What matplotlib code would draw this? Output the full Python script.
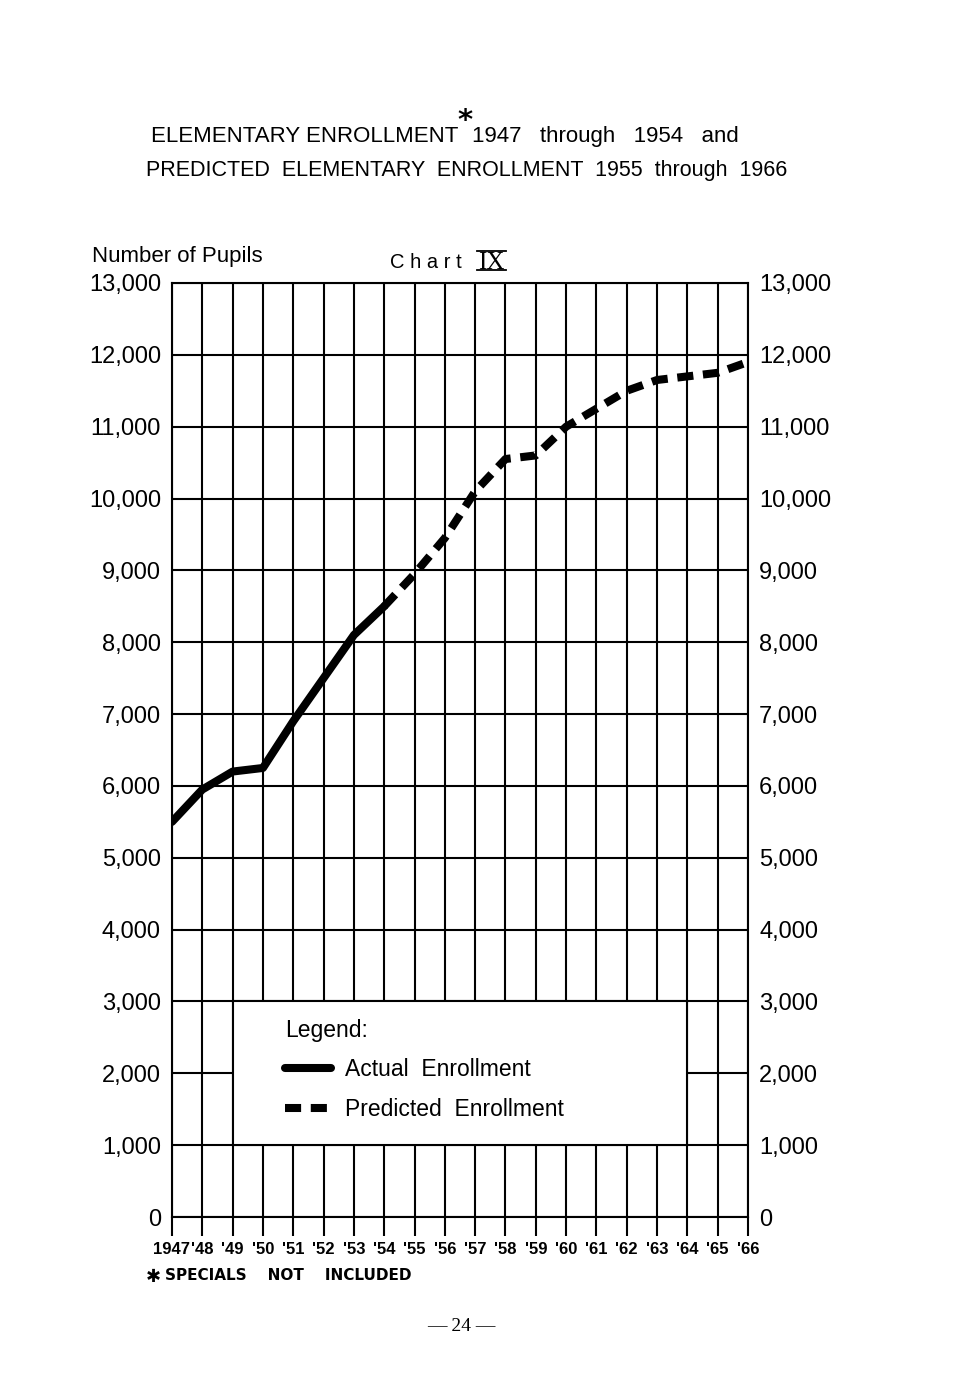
import matplotlib
matplotlib.use("Agg")
import matplotlib.pyplot as plt
from matplotlib.lines import Line2D
from matplotlib.patches import Rectangle

# ---- data ----
actual_years = [1947, 1948, 1949, 1950, 1951, 1952, 1953, 1954]
actual_pupils = [5500, 5950, 6200, 6250, 6900, 7500, 8100, 8500]
pred_years = [1954, 1955, 1956, 1957, 1958, 1959, 1960, 1961, 1962, 1963, 1964, 1965, 1966]
pred_pupils = [8500, 8950, 9450, 10100, 10550, 10600, 11000, 11250, 11500, 11650, 11700, 11750, 11900]
year_ticks = list(range(1947, 1967))
year_labels = ["1947", "'48", "'49", "'50", "'51", "'52", "'53", "'54", "'55", "'56",
               "'57", "'58", "'59", "'60", "'61", "'62", "'63", "'64", "'65", "'66"]
pupil_ticks = list(range(0, 13001, 1000))
pupil_labels = ["0", "1,000", "2,000", "3,000", "4,000", "5,000", "6,000", "7,000",
                "8,000", "9,000", "10,000", "11,000", "12,000", "13,000"]

W, H = 954, 1380
SANS = ["Liberation Sans", "DejaVu Sans"]

fig = plt.figure(figsize=(W / 100, H / 100), dpi=100)
fig.patch.set_facecolor("white")


def px(x, y):
    return x / W, 1 - y / H


ax = fig.add_axes([172 / W, 1 - 1217 / H, 576 / W, 934 / H])
ax.set_xlim(1947, 1966)
ax.set_ylim(0, 13000)
ax.set_axisbelow(True)
ax.grid(True, color="black", linewidth=1.5)
for s in ax.spines.values():
    s.set_linewidth(1.5)

ax.set_xticks(year_ticks)
ax.set_xticklabels(year_labels, fontfamily=SANS, fontweight="bold", fontsize=12)
ax.set_yticks(pupil_ticks)
ax.set_yticklabels(pupil_labels, fontfamily=SANS, fontsize=17)
ax.tick_params(axis="x", direction="out", length=14, width=1.5, pad=4)
ax.tick_params(axis="y", length=0, pad=8, labelleft=True, labelright=True)

# legend box region
ax.add_patch(Rectangle((1949, 1000), 15, 2000, facecolor="white", edgecolor="black",
                       linewidth=1.5, zorder=1))

ax.plot(actual_years, actual_pupils, color="black", linewidth=5.8,
        solid_capstyle="round", solid_joinstyle="round", label="Actual  Enrollment", zorder=3)
ax.plot(pred_years, pred_pupils, color="black", linewidth=5.8, dashes=(2.0, 1.2),
        label="Predicted  Enrollment", zorder=3)

leg = ax.legend(loc="upper left", bbox_to_anchor=px(274, 1008), bbox_transform=fig.transFigure,
                frameon=False, title="Legend:", alignment="left",
                prop={"family": SANS, "size": 16.5},
                title_fontproperties={"family": SANS, "size": 16.5},
                handlelength=2.0, handletextpad=0.6, labelspacing=0.7, borderpad=0)

# ---- titles and annotations ----
fig.text(*px(458, 142), "ELEMENTARY ENROLLMENT", ha="right", va="baseline",
         fontfamily=SANS, fontsize=16)
fig.text(*px(465, 129), "*", ha="center", va="baseline", fontfamily="DejaVu Sans",
         fontweight="bold", fontsize=21)
fig.text(*px(472, 142), "1947   through   1954   and", ha="left", va="baseline",
         fontfamily=SANS, fontsize=16)
fig.text(*px(467, 176), "PREDICTED  ELEMENTARY  ENROLLMENT  1955  through  1966", ha="center",
         va="baseline", fontfamily=SANS, fontsize=15.5)

fig.text(*px(92, 262), "Number of Pupils", ha="left", va="baseline", fontfamily=SANS, fontsize=16)
fig.text(*px(390, 268), "C h a r t", ha="left", va="baseline", fontfamily=SANS, fontsize=14.5)
fig.text(*px(491, 269), "IX", ha="center", va="baseline", fontfamily="Liberation Serif", fontsize=18)
for yy in (251, 270):
    fig.add_artist(Line2D([477 / W, 506 / W], [1 - yy / H, 1 - yy / H], color="black", linewidth=1.3))

fig.text(*px(146, 1282), "\u2731", ha="left", va="baseline",
         fontfamily="DejaVu Sans", fontweight="bold", fontsize=13)
fig.text(*px(165, 1280), "SPECIALS    NOT    INCLUDED", ha="left", va="baseline",
         fontfamily="DejaVu Sans", fontweight="bold", fontsize=11)
fig.text(*px(461, 1331), "\u2014 24 \u2014", ha="center", va="baseline",
         fontfamily="Liberation Serif", fontsize=14)

fig.savefig("out.png", dpi=100, facecolor="white")
